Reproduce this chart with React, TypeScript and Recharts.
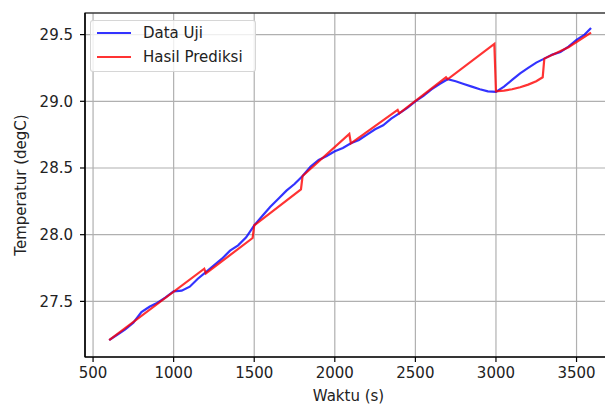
import { LineChart, Line, XAxis, YAxis, CartesianGrid, ReferenceArea, Label } from "recharts";

// Data Uji (measured)
const waktuUji = [
    600, 650, 700, 750, 800, 850, 900, 950, 1000, 1050, 1100, 1150, 1200, 1250, 1300, 1350, 1400, 1450,
    1500, 1550, 1600, 1650, 1700, 1750, 1800, 1850, 1900, 1950, 2000, 2050, 2100, 2150, 2200, 2250, 2300,
    2350, 2400, 2450, 2500, 2550, 2600, 2650, 2700, 2750, 2800, 2850, 2900, 2950, 3000, 3050, 3100, 3150,
    3200, 3250, 3300, 3350, 3400, 3450, 3500, 3550, 3590,
];
const suhuUji = [
    27.21, 27.25, 27.29, 27.34, 27.42, 27.46, 27.49, 27.53, 27.575, 27.58, 27.61, 27.67, 27.72, 27.77, 27.82,
    27.88, 27.92, 27.98, 28.07, 28.14, 28.21, 28.27, 28.33, 28.38, 28.44, 28.51, 28.56, 28.59, 28.625, 28.65,
    28.685, 28.71, 28.75, 28.79, 28.82, 28.87, 28.91, 28.95, 29.0, 29.04, 29.09, 29.13, 29.165, 29.15, 29.13,
    29.11, 29.09, 29.075, 29.07, 29.11, 29.16, 29.21, 29.25, 29.29, 29.32, 29.35, 29.37, 29.41, 29.46, 29.5,
    29.55,
];

// Hasil Prediksi (per 300 s window)
const waktuPrediksi = [
    600, 1190, 1200, 1490, 1500, 1790, 1800, 2090, 2100, 2390, 2400, 2690, 2700, 2990, 3000, 3050, 3100,
    3150, 3200, 3250, 3290, 3300, 3450, 3590,
];
const suhuPrediksi = [
    27.21, 27.745, 27.71, 27.975, 28.07, 28.34, 28.44, 28.755, 28.685, 28.935, 28.91, 29.18, 29.165, 29.43,
    29.075, 29.08, 29.09, 29.105, 29.125, 29.15, 29.18, 29.32, 29.405, 29.515,
];

const xTicks = [500, 1000, 1500, 2000, 2500, 3000, 3500];
const yTicks = [27.5, 28.0, 28.5, 29.0, 29.5];
const xDomain: [number, number] = [450, 3720];
const yDomain: [number, number] = [27.083, 29.662];

const seriesNames = ["Data Uji", "Hasil Prediksi"];
const seriesColors = ["#0000ff", "#ff0000"];

const dataUji = waktuUji.map((t, i) => ({ t, v: suhuUji[i] }));
const dataPrediksi = waktuPrediksi.map((t, i) => ({ t, v: suhuPrediksi[i] }));

const font = "'DejaVu Sans', sans-serif";
const tickStyle = { fontFamily: font, fontSize: 15, fill: "#222" };
const labelStyle = { fontFamily: font, fontSize: 15, fill: "#222" };

const renderXLabel = (props: any) => {
    const vb = props.viewBox;
    return (
        <text x={vb.x + vb.width / 2} y={vb.y + 44} textAnchor="middle" style={labelStyle}>
            Waktu (s)
        </text>
    );
};

const renderYLabel = (props: any) => {
    const vb = props.viewBox;
    return (
        <text
            transform={`translate(${vb.x + 20.5}, ${vb.y + vb.height / 2}) rotate(-90)`}
            textAnchor="middle"
            dominantBaseline="central"
            style={labelStyle}
        >
            Temperatur (degC)
        </text>
    );
};

const App = () => {
    return (
        <div style={{ position: "absolute", left: 0, top: 0, width: 605, height: 405, overflow: "hidden", background: "#fff" }}>
            <LineChart width={620} height={405} margin={{ top: 13, right: 8, bottom: 0, left: 0 }}>
                <CartesianGrid stroke="#b0b0b0" strokeWidth={1.2} />
                <XAxis
                    type="number"
                    dataKey="t"
                    domain={xDomain}
                    ticks={xTicks}
                    allowDataOverflow
                    height={48}
                    tick={tickStyle}
                    tickSize={5}
                    tickMargin={5}
                    tickLine={{ stroke: "#000", strokeWidth: 1.2 }}
                    axisLine={{ stroke: "#000", strokeWidth: 1.2 }}
                >
                    <Label content={renderXLabel} />
                </XAxis>
                <YAxis
                    type="number"
                    domain={yDomain}
                    ticks={yTicks}
                    allowDataOverflow
                    width={85}
                    tick={tickStyle}
                    tickFormatter={(v: number) => v.toFixed(1)}
                    tickSize={5}
                    tickMargin={7}
                    tickLine={{ stroke: "#000", strokeWidth: 1.2 }}
                    axisLine={{ stroke: "#000", strokeWidth: 1.2 }}
                >
                    <Label content={renderYLabel} />
                </YAxis>
                <ReferenceArea x1={xDomain[0]} x2={xDomain[1]} y1={yDomain[0]} y2={yDomain[1]} fill="none" stroke="#000" strokeWidth={1.2} />
                <Line
                    data={dataUji}
                    dataKey="v"
                    name={seriesNames[0]}
                    type="linear"
                    stroke={seriesColors[0]}
                    strokeOpacity={0.8}
                    strokeWidth={2.2}
                    dot={false}
                    isAnimationActive={false}
                />
                <Line
                    data={dataPrediksi}
                    dataKey="v"
                    name={seriesNames[1]}
                    type="linear"
                    stroke={seriesColors[1]}
                    strokeOpacity={0.8}
                    strokeWidth={2.2}
                    dot={false}
                    isAnimationActive={false}
                />
            </LineChart>
            <div
                style={{
                    position: "absolute",
                    left: 90,
                    top: 20,
                    width: 166,
                    height: 52,
                    boxSizing: "border-box",
                    border: "1px solid rgba(204,204,204,0.8)",
                    borderRadius: 3,
                    background: "rgba(255,255,255,0.8)",
                    fontFamily: font,
                    fontSize: 15,
                    color: "#222",
                }}
            >
                {seriesNames.map((name, i) => (
                    <div key={name} style={{ height: 24, display: "flex", alignItems: "center" }}>
                        <div style={{ width: 34, height: 2.2, marginLeft: 6, background: seriesColors[i], opacity: 0.8 }} />
                        <span style={{ marginLeft: 12, whiteSpace: "nowrap" }}>{name}</span>
                    </div>
                ))}
            </div>
        </div>
    );
};

export default App;
